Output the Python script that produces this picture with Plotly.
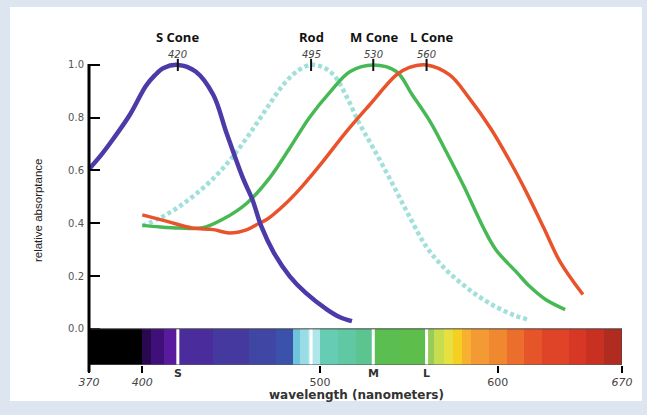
import plotly.graph_objects as go

# ---------------- data ----------------
s_nm  = [370, 377, 384, 393, 402, 407, 412, 420, 430, 440, 447, 452, 457, 462, 467, 474, 483, 492, 504, 511, 518]
s_val = [0.605, 0.66, 0.723, 0.811, 0.92, 0.96, 0.988, 1.0, 0.975, 0.886, 0.75, 0.655, 0.565, 0.489, 0.388, 0.289, 0.199, 0.136, 0.073, 0.045, 0.029]

rod_nm  = [400, 410, 420, 430, 440, 450, 460, 470, 480, 488, 495, 502, 508, 515, 522, 530, 540, 550, 560, 570, 580, 590, 600, 610, 617]
rod_val = [0.39, 0.42, 0.46, 0.51, 0.57, 0.645, 0.735, 0.835, 0.93, 0.98, 1.0, 0.99, 0.96, 0.88, 0.78, 0.685, 0.56, 0.43, 0.31, 0.23, 0.17, 0.12, 0.08, 0.05, 0.035]

m_nm  = [400, 410, 421, 434, 445, 459, 472, 483, 494, 506, 517, 530, 543, 552, 562, 571, 581, 592, 599, 611, 618, 627, 638]
m_val = [0.392, 0.386, 0.382, 0.383, 0.414, 0.477, 0.575, 0.685, 0.80, 0.90, 0.975, 1.0, 0.975, 0.886, 0.785, 0.672, 0.54, 0.383, 0.30, 0.212, 0.161, 0.111, 0.073]

l_nm  = [400, 414, 428, 440, 449, 459, 466, 470, 480, 490, 500, 515, 528, 543, 550, 560, 573, 584, 596, 607, 616, 626, 635, 648]
l_val = [0.432, 0.407, 0.382, 0.376, 0.363, 0.376, 0.401, 0.414, 0.47, 0.54, 0.62, 0.748, 0.849, 0.962, 0.99, 1.0, 0.962, 0.874, 0.76, 0.634, 0.52, 0.382, 0.256, 0.13]

peak_names = ["S Cone", "Rod", "M Cone", "L Cone"]
peak_nm = [420, 495, 530, 560]
peak_letters = ["S", "M", "L"]
letter_nm = [420, 530, 560]

x_tick_vals = [370, 400, 500, 600, 670]
x_tick_text = ["<i>370</i>", "<i>400</i>", "500", "600", "<i>670</i>"]
y_tick_vals = [0.0, 0.2, 0.4, 0.6, 0.8, 1.0]
y_tick_text = ["0.0", "0.2", "0.4", "0.6", "0.8", "1.0"]

# spectrum bar bands (edges in nm, colour per band)
band_edges = [370, 400, 405, 412, 420, 440, 460, 475, 485, 489, 493, 500, 510, 520, 530, 545, 560, 564,
              570, 575, 580, 585, 595, 605, 615, 625, 640, 650, 660, 670]
band_colors = ["#000000", "#2a0850", "#40107a", "#5a1a9e", "#4a2c9c", "#45389e", "#3f46a4", "#3a52ac",
               "#6fc4dc", "#9adce6", "#aee6ea", "#66ccb4", "#60c8a2", "#5cc48e", "#5abf50", "#5dbe4c",
               "#98cc58", "#c8dc50", "#e8e040", "#f5d020", "#f7b030", "#f39a35", "#f08830", "#ec6e2c",
               "#e6552a", "#e04428", "#d63825", "#c83022", "#b02c20"]

# ---------------- layout constants ----------------
W, H = 647, 415
ML, MR, MT, MB = 89, 25, 57, 50
Y0, Y1 = -0.137, 1.03
BAR_BOTTOM = -0.137

fig = go.Figure()

n = len(band_colors)
cs = [[i / (n - 1), c] for i, c in enumerate(band_colors)]
fig.add_trace(go.Heatmap(
    x=band_edges, y=[BAR_BOTTOM, 0.0], z=[list(range(n))],
    colorscale=cs, zmin=0, zmax=n - 1, showscale=False, hoverinfo="skip"))

fig.add_trace(go.Scatter(x=rod_nm, y=rod_val, mode="lines", line=dict(color="#9fe0da", width=4.5, dash="4px,3px", shape="spline"), name="Rod"))
fig.add_trace(go.Scatter(x=m_nm, y=m_val, mode="lines", line=dict(color="#46b955", width=3.5, shape="spline"), name="M Cone"))
fig.add_trace(go.Scatter(x=l_nm, y=l_val, mode="lines", line=dict(color="#e9532b", width=3.5, shape="spline"), name="L Cone"))
fig.add_trace(go.Scatter(x=s_nm, y=s_val, mode="lines", line=dict(color="#4b3aa8", width=4.5, shape="spline"), name="S Cone"))

shapes = []
pw = W - ML - MR
ph = H - MT - MB
# white panel on light blue page
shapes.append(dict(type="rect", xref="paper", yref="paper", layer="below",
                   x0=(10 - ML) / pw, x1=(642 - ML) / pw,
                   y0=-(401 - (H - MB)) / ph, y1=1 + (MT - 7) / ph,
                   fillcolor="white", line=dict(width=0)))
# white separators in the bar
for p in peak_nm:
    shapes.append(dict(type="line", xref="x", yref="y", x0=p, x1=p, y0=BAR_BOTTOM, y1=0.0,
                       line=dict(color="white", width=3)))
# bar outline
shapes.append(dict(type="rect", xref="x", yref="y", x0=370, x1=670, y0=BAR_BOTTOM, y1=0.0,
                   line=dict(color="#444444", width=1)))
# peak ticks on top
for p in peak_nm:
    shapes.append(dict(type="line", xref="x", yref="y", x0=p, x1=p, y0=0.977, y1=1.023,
                       line=dict(color="#111111", width=2)))
# y axis line
def ypaper(v):
    return (v - Y0) / (Y1 - Y0)
shapes.append(dict(type="line", xref="paper", yref="paper", x0=0, x1=0,
                   y0=ypaper(BAR_BOTTOM) - 7 / ph, y1=ypaper(1.0) + 1 / ph,
                   line=dict(color="black", width=3)))

annotations = []
shifts = [0, 0, 1, 5]
for name, p, sh in zip(peak_names, peak_nm, shifts):
    annotations.append(dict(x=p, y=1, xref="x", yref="paper", text=f"<b>{name}</b>", showarrow=False,
                            xanchor="center", yanchor="middle", yshift=MT - 37, xshift=sh,
                            font=dict(family="Open Sans", size=13, color="#111111")))
    annotations.append(dict(x=p, y=1, xref="x", yref="paper", text=f"<i>{p}</i>", showarrow=False,
                            xanchor="center", yanchor="middle", yshift=MT - 54,
                            font=dict(family="DejaVu Sans", size=10, color="#444444")))
for let, p in zip(peak_letters, letter_nm):
    annotations.append(dict(x=p, y=0, xref="x", yref="paper", text=f"<b>{let}</b>", showarrow=False,
                            xanchor="center", yanchor="middle", yshift=-8,
                            font=dict(family="DejaVu Sans", size=11, color="#333333")))
annotations.append(dict(x=0.502, y=0, xref="paper", yref="paper", text="<b>wavelength (nanometers)</b>",
                        showarrow=False, xanchor="center", yanchor="middle", yshift=-30,
                        font=dict(family="DejaVu Sans", size=12, color="#333333")))
annotations.append(dict(x=(38 - ML) / pw, y=ypaper(0.45), xref="paper", yref="paper", text="relative absorptance",
                        showarrow=False, textangle=-90, xanchor="center", yanchor="middle",
                        font=dict(family="Liberation Sans", size=11.5, color="#222222")))

fig.update_layout(
    width=W, height=H, margin=dict(l=ML, r=MR, t=MT, b=MB),
    paper_bgcolor="#dde6f0", plot_bgcolor="white", showlegend=False,
    shapes=shapes, annotations=annotations,
    xaxis=dict(range=[370, 670], showgrid=False, zeroline=False, showline=False,
               tickvals=x_tick_vals, ticktext=x_tick_text, ticks="outside", ticklen=7, tickwidth=2,
               tickcolor="black", tickfont=dict(family="DejaVu Sans", size=11, color="#444444")),
    yaxis=dict(range=[Y0, Y1], showgrid=False, zeroline=False, showline=False,
               tickvals=y_tick_vals, ticktext=y_tick_text, ticks="inside", ticklen=11, tickwidth=2,
               tickcolor="black", ticklabelstandoff=4,
               tickfont=dict(family="DejaVu Sans", size=10, color="#555555")),
)

fig.write_html("out.html", config={"displayModeBar": False},
               post_script="document.body.style.margin='0';document.body.style.padding='0';")
